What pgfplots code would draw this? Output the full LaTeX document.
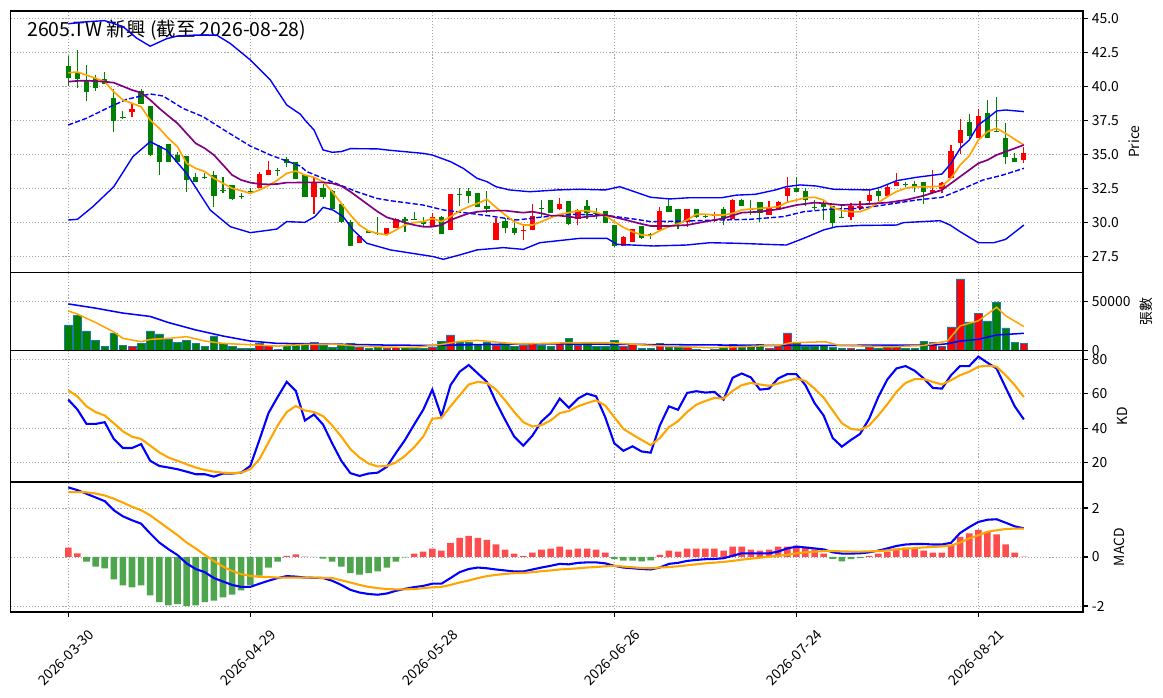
\documentclass[border=0pt]{standalone}
\usepackage{fontspec}
\setmainfont{Noto Sans CJK TC}
\usepackage{pgfplots}
\usepackage{pgfplotstable}
\pgfplotsset{compat=1.18}
\definecolor{cup}{RGB}{255,0,0}
\definecolor{cdn}{RGB}{0,128,0}
\definecolor{vedge}{RGB}{31,119,180}
\definecolor{hup}{RGB}{255,77,77}
\definecolor{hdn}{RGB}{77,166,77}
\definecolor{mblue}{RGB}{0,0,255}
\definecolor{morange}{RGB}{255,165,0}
\definecolor{mpurple}{RGB}{128,0,128}

% up candles: i open high low close volume
\pgfplotstableread{
i o h l c v
7 38.14 38.75 37.72 38.33 4450
21 32.5 33.68 32.5 33.55 6850
22 33.5 34.51 33.46 33.85 5480
27 31.89 33.31 30.59 32.92 8220
32 28.5 29.07 28.5 29.0 3425
35 29.12 29.61 29.07 29.61 2400
36 29.61 30.3 29.56 30.25 3425
40 29.73 30.71 29.73 30.37 3770
42 29.46 32.08 29.46 32.08 15755
47 28.7 30.34 28.7 29.93 5480
50 29.34 29.85 28.7 29.41 4800
51 29.46 31.32 29.46 30.49 7300
54 30.96 31.81 30.91 31.32 7190
56 30.22 30.96 29.78 30.91 5140
61 28.28 28.97 28.28 28.92 4450
62 28.58 29.51 28.58 29.51 6510
65 29.44 31.1 29.44 30.83 7535
68 30.05 30.96 29.63 30.96 3770
71 30.47 30.78 30.0 30.61 1370
73 30.22 31.74 30.22 31.64 6510
77 30.54 31.59 30.54 31.03 2400
78 30.91 31.59 30.91 31.47 4450
79 31.94 33.31 31.45 32.5 17810
86 30.37 31.4 30.17 31.2 2400
87 31.05 31.6 30.9 31.2 1370
88 31.59 32.38 31.4 32.0 3080
90 31.96 32.75 31.96 32.57 3080
91 32.67 33.6 32.67 32.99 3770
95 32.18 33.85 32.06 32.38 8560
96 32.45 32.99 32.13 32.87 4450
97 33.28 35.69 33.28 35.25 23975
98 35.86 37.6 35.02 36.79 72610
100 36.23 38.33 36.23 37.82 37330
105 34.58 35.56 34.39 35.07 7535
}\up

% down candles
\pgfplotstableread{
i o h l c v
0 41.5 42.25 40.0 40.59 26030
1 41.08 42.65 39.85 40.54 35280
2 40.49 41.54 38.95 39.61 19865
3 40.59 40.81 39.68 39.9 10620
4 40.51 41.05 40.2 40.2 4450
5 39.14 39.83 36.62 37.43 17810
6 37.75 38.19 37.57 37.68 5480
8 39.63 39.83 38.7 38.73 6850
9 38.53 38.58 34.9 34.98 19865
10 35.59 35.69 33.48 34.46 16780
11 35.74 35.74 34.41 34.44 11650
12 34.98 35.15 34.39 34.41 8560
13 34.9 34.9 32.25 33.14 10620
14 33.33 33.65 32.99 32.99 6850
15 33.33 33.6 33.19 33.24 4450
16 33.5 33.75 31.1 31.96 14730
17 32.4 33.3 32.18 32.3 6850
18 32.75 32.75 31.64 31.72 4450
19 31.93 32.18 31.69 31.86 2400
20 32.33 32.5 32.08 32.25 2400
23 33.85 34.02 33.43 33.75 1370
24 34.68 34.83 34.05 34.34 5480
25 34.46 34.46 33.16 33.2 7535
26 33.48 33.48 31.89 31.89 7535
28 32.5 32.79 31.72 31.89 5480
29 32.3 32.38 30.96 31.0 3425
30 31.35 31.4 29.93 30.0 5480
31 30.05 30.17 28.26 28.28 7535
33 29.34 29.44 29.19 29.24 2400
34 29.2 30.42 29.1 29.12 4110
37 30.22 30.42 29.26 30.12 3425
38 30.25 30.74 30.17 30.17 2400
39 30.02 30.37 29.73 29.85 2400
41 30.37 30.47 29.17 29.17 9590
43 32.08 32.5 31.2 32.0 7880
44 32.3 32.5 31.4 31.94 8560
45 32.18 32.18 31.1 31.1 5820
46 31.2 32.3 30.71 30.98 8560
48 30.1 30.3 29.19 29.61 5820
49 29.61 30.22 29.07 29.24 4450
52 31.08 31.64 30.42 31.0 5140
53 31.64 31.64 30.71 30.71 4450
55 31.57 31.57 29.78 29.85 12670
57 31.2 31.64 30.27 30.66 7535
58 30.71 31.03 30.22 30.61 4450
59 30.86 30.86 29.93 29.93 4450
60 29.8 29.8 28.21 28.28 10620
63 29.76 29.76 28.8 28.85 2400
64 29.17 29.24 28.78 29.07 2400
66 31.2 31.69 30.76 30.76 3425
67 30.96 30.96 29.51 29.85 3425
69 30.96 30.96 30.34 30.42 1370
70 30.47 30.61 30.34 30.39 340
72 30.96 31.1 29.78 30.25 3770
74 31.64 31.74 31.2 31.2 3770
75 30.96 31.64 30.54 30.9 4450
76 31.47 31.47 30.05 30.66 5820
80 32.5 33.31 32.25 32.25 7880
81 32.3 32.5 31.2 31.64 4450
82 31.15 31.64 30.91 31.08 4450
83 31.45 31.64 30.17 31.15 5140
84 31.2 31.2 29.63 29.93 3770
85 30.42 31.2 30.37 30.37 2400
89 32.28 32.43 31.59 31.94 2400
92 32.82 32.99 32.62 32.72 2400
93 32.79 33.06 32.26 32.62 2400
94 32.94 32.94 31.32 32.26 8900
99 37.4 37.94 36.05 36.35 29110
101 38.01 39.0 36.23 36.23 30140
102 36.72 39.2 36.62 36.62 48635
103 36.23 37.28 34.26 34.83 22950
104 34.7 35.12 34.41 34.41 8560
}\dn

\pgfplotsset{
  panel/.style={
    scale only axis, width=772.2pt, anchor=north west,
    xmin=-6.35, xmax=111.5,
    xtick={0,20,40,60,80,100},
    grid=major,
    grid style={line width=0.6pt, color=black!35, dash pattern=on 0.8pt off 1.4pt},
    axis line style={line width=0.8pt},
    tick align=outside, major tick length=3.5pt,
    tick style={line width=0.8pt, black},
    ytick pos=right, yticklabel pos=right,
    xtick pos=bottom,
    yticklabel shift=-0.6pt, xticklabel shift=3.6pt,
    ylabel near ticks,
    tick label style={font=\fontsize{10}{12}\selectfont},
    label style={font=\fontsize{10}{12}\selectfont},
    /pgf/number format/assume math mode=true,
  },
  upper/.style={xticklabels={}, xtick style={draw=none}},
  candle/.style={draw=none, mark=none, forget plot, error bars/.cd, y dir=plus, y explicit, error mark=none},
}

\begin{document}
\begin{tikzpicture}
\path[use as bounding box] (0,0) rectangle (837.36pt,-502.56pt);

% ---------------- price ----------------
\begin{axis}[panel, upper, at={(7.56pt,-7.92pt)}, height=188.28pt,
  ymin=26.31, ymax=45.54, ytick={27.5,30,32.5,35,37.5,40,42.5,45},
  yticklabel style={/pgf/number format/.cd,fixed,fixed zerofill,precision=1},
  ylabel={Price}]
\node[anchor=west, font=\fontsize{14}{16}\selectfont, inner sep=0pt] at (rel axis cs:0.0154,0.926) {2605.TW 新興 (截至 2026-08-28)};
% wicks
\addplot[candle, error bar style={line width=0.8pt, draw=cup}]
  table[x=i, y=l, y error plus expr=\thisrow{h}-\thisrow{l}]{\up};
\addplot[candle, error bar style={line width=0.8pt, draw=cdn}]
  table[x=i, y=l, y error plus expr=\thisrow{h}-\thisrow{l}]{\dn};
% bodies
\addplot[candle, error bar style={line width=3.8pt, draw=cup, line cap=butt}]
  table[x=i, y=o, y error plus expr=\thisrow{c}-\thisrow{o}]{\up};
\addplot[candle, error bar style={line width=3.8pt, draw=cdn, line cap=butt}]
  table[x=i, y=c, y error plus expr=\thisrow{o}-\thisrow{c}]{\dn};
% bollinger
\addplot[mblue, line width=1pt, dash pattern=on 3.7pt off 1.6pt] coordinates {
(0,37.16)(2,37.65)(4.6,38.5)(6.4,39.04)(9,39.44)(10.4,39.29)(12.6,38.38)(14.8,37.77)(17.4,36.67)(20,35.61)(22.2,34.95)(25.5,34.14)(26.2,33.73)(28,33.24)(31.7,32.25)(33.9,31.76)(35.4,31.59)(39,31.27)(41.2,30.91)(44.1,30.66)(46.3,30.47)(49.3,30.17)(51.8,30.37)(55.1,30.59)(58.8,30.54)(62.4,30.22)(64,30.05)(68,30.1)(71.6,30.17)(74.9,30.22)(78.6,30.42)(80.8,30.78)(83.7,30.96)(87,31.03)(89.6,31.27)(93.2,31.64)(96,31.84)(98,32.38)(100.5,33.11)(102.7,33.48)(105,33.97)};
\addplot[mblue, line width=1pt] coordinates {
(0,44.6)(2,44.75)(4,44.83)(6,44.4)(7.5,43.55)(9,42.95)(10.8,43.5)(12,43.7)(14,43.77)(16.3,43.77)(17.8,43.15)(20,41.94)(22.2,40.47)(24,38.63)(25.5,37.95)(26,37.52)(27,36.79)(28,35.32)(29,35.15)(30,35.2)(31,35.42)(34,35.4)(35.3,35.3)(39,35.07)(40,34.95)(42,34.46)(43.4,33.97)(44.9,33.24)(46,32.99)(47,32.62)(48.5,32.38)(50.7,32.25)(53.7,32.38)(56.2,32.43)(59,32.38)(60.6,32.62)(62,32.3)(64,31.84)(66.1,31.72)(68.3,31.81)(71.8,31.81)(73.4,32.0)(75.5,32.06)(77.7,32.38)(78.9,32.62)(80.4,32.75)(82.2,32.67)(84.1,32.43)(88.1,32.38)(89.2,32.57)(91,33.06)(93.2,33.31)(96,33.55)(97,34.34)(98,35.44)(99,36.05)(100,37.16)(101,37.65)(102,38.19)(103,38.26)(105,38.14)};
\addplot[mblue, line width=1pt] coordinates {
(0,30.17)(1,30.22)(2.7,31.15)(5,32.62)(7.1,34.83)(9,35.93)(10.8,35.32)(13,33.6)(15.6,30.9)(17.8,29.68)(20,29.24)(22.9,29.5)(24,30.05)(26,30.0)(27.1,30.42)(28,31.1)(29.1,30.9)(30.2,30.42)(31.3,29.44)(32.8,28.46)(35.4,27.97)(40.1,27.48)(41.2,27.28)(43,27.6)(44.9,27.97)(47.8,28.14)(50,28.01)(51.8,28.5)(56.2,28.82)(59.2,28.82)(60.3,28.38)(64.3,28.26)(67.9,28.33)(70.5,28.5)(73.4,28.46)(78.9,28.33)(80.8,28.82)(83,29.44)(84.4,29.68)(87,29.77)(91,29.8)(91.8,29.98)(95.8,30.12)(96.9,29.8)(98,29.31)(100,28.5)(101.7,28.5)(103,28.75)(105,29.8)};
% MA5
\addplot[morange, line width=1.2pt] coordinates {
(0,41.0)(1,41.05)(2,40.83)(3,40.6)(4,40.34)(5,39.6)(6,39.0)(7,38.75)(8,38.5)(9,37.52)(10,36.91)(11,36.18)(12,35.56)(13,34.34)(14,33.97)(15,33.73)(16,33.24)(17,32.87)(18,32.5)(19,32.33)(20,32.13)(21,32.38)(22,32.7)(23,33.11)(24,33.6)(25,33.77)(26,33.48)(27,33.31)(28,32.99)(29,32.25)(30,31.4)(31,30.54)(32,29.8)(33,29.36)(34,29.19)(35,29.07)(36,29.44)(37,29.8)(38,29.98)(39,30.05)(40,30.29)(41,30.05)(42,30.42)(43,30.83)(44,31.15)(45,31.4)(46,31.69)(47,31.1)(48,30.54)(49,30.05)(50,29.8)(51,29.8)(52,30.05)(53,30.34)(54,30.59)(55,30.71)(56,30.85)(57,30.86)(58,30.74)(59,30.49)(60,30.05)(61,29.63)(62,29.31)(63,29.07)(64,29.02)(65,29.39)(66,29.68)(67,29.88)(68,30.17)(69,30.59)(70,30.59)(71,30.54)(72,30.54)(73,30.66)(74,30.91)(75,30.98)(76,31.03)(77,31.08)(78,31.15)(79,31.47)(80,31.64)(81,31.81)(82,31.84)(83,31.64)(84,31.08)(85,30.86)(86,30.78)(87,30.78)(88,31.03)(89,31.45)(90,31.89)(91,32.26)(92,32.5)(93,32.62)(94,32.62)(95,32.62)(96,32.67)(97,33.24)(98,34.22)(99,34.88)(100,36.05)(101,36.67)(102,36.91)(103,36.54)(104,36.1)(105,35.69)};
% MA10
\addplot[mpurple, line width=1.2pt] coordinates {
(0,40.34)(1,40.4)(2,40.42)(3,40.38)(4,40.34)(5,40.27)(6,40.0)(7,39.73)(8,39.53)(9,39.0)(10,38.38)(11,37.82)(12,37.28)(13,36.54)(14,35.81)(15,35.44)(16,34.95)(17,34.22)(18,33.48)(19,33.11)(20,32.92)(21,32.82)(22,32.79)(23,32.82)(24,32.92)(25,32.92)(26,32.94)(27,32.94)(28,32.94)(29,32.87)(30,32.67)(31,32.25)(32,31.76)(33,31.27)(34,30.78)(35,30.37)(36,30.17)(37,29.98)(38,29.8)(39,29.68)(40,29.68)(41,29.8)(42,30.17)(43,30.42)(44,30.66)(45,30.78)(46,30.83)(47,30.86)(48,30.86)(49,30.78)(50,30.71)(51,30.78)(52,30.66)(53,30.49)(54,30.49)(55,30.42)(56,30.32)(57,30.42)(59,30.54)(61,30.22)(63,29.88)(64,29.73)(66,29.73)(68,29.8)(70,30.05)(72,30.29)(74,30.71)(76,30.78)(78,30.96)(80,31.27)(82,31.45)(83,31.4)(85,31.27)(86,31.3)(88,31.35)(90,31.45)(92,31.64)(94,31.96)(96,32.38)(97,32.87)(98,33.36)(99,33.85)(100,34.34)(101,34.58)(102,34.95)(103,35.2)(104,35.44)(105,35.69)};
\end{axis}

% ---------------- volume ----------------
\begin{axis}[panel, upper, at={(7.56pt,-196.2pt)}, height=56.16pt,
  ymin=0, ymax=79200, ytick={0,50000}, scaled y ticks=false,
  yticklabel style={/pgf/number format/.cd,fixed,1000 sep={}},
  ylabel={張數}]
\addplot[ybar, bar width=0.84, bar shift=0pt, fill=cup, draw=vedge, line width=0.4pt] table[x=i,y=v]{\up};
\addplot[ybar, bar width=0.84, bar shift=0pt, fill=cdn, draw=vedge, line width=0.4pt] table[x=i,y=v]{\dn};
\addplot[mblue, line width=1.1pt] coordinates {
(0,47300)(3,43000)(6,38000)(9,34600)(11,28400)(14,20900)(17,14700)(20,9600)(23,7200)(27,6850)(31,6200)(35,5500)(40,5150)(46,6150)(51,6850)(68,5800)(79,5150)(95,5500)(96.6,6850)(98,9600)(100,11300)(102,15750)(105,17450)};
\addplot[morange, line width=1.1pt] coordinates {
(0,40070)(1,36990)(3,28430)(5,18840)(6,12330)(8,8905)(9,11300)(11,12330)(13,14040)(15,9590)(17,7190)(20,5820)(23,4450)(26,6165)(29,6510)(32,4450)(35,3425)(38,3080)(41,6165)(43,9250)(45,10275)(47,8560)(49,6850)(51,6850)(55,7880)(59.6,7880)(64,5140)(70.6,2740)(75.5,4450)(78,5140)(79.4,7880)(83.2,8900)(84.7,5140)(90.5,3770)(94,5140)(96.6,9590)(98,25000)(100,30140)(102,43840)(103,35280)(105,24320)};
\end{axis}

% ---------------- KD ----------------
\begin{axis}[panel, upper, at={(7.56pt,-252.36pt)}, height=94.68pt,
  ymin=8.78, ymax=85.13, ytick={20,40,60,80}, ylabel={KD}]
\addplot[mblue, line width=1.5pt] coordinates {
(0,56.6)(1,50.9)(2,42.5)(3,42.5)(4,43.5)(5,33.8)(6,28.5)(7,28.5)(8,30.8)(9,21.1)(10,18.1)(11,17.2)(12,16.2)(13,14.8)(14,13.3)(15,13.3)(16,11.9)(17,13.7)(18,13.7)(19,14.2)(20,18.1)(21,33.2)(22,48.8)(23,58.1)(24,66.9)(25,61.7)(26,44.5)(27,48.0)(28,42.1)(29,31.2)(30,21.1)(31,13.9)(32,12.3)(33,13.7)(34,14.2)(35,17.6)(36,25.6)(37,33.2)(38,42.1)(39,50.7)(40,62.4)(41,47.0)(42,65.0)(43,72.8)(44,76.7)(45,71.8)(46,66.9)(47,55.2)(48,44.9)(49,35.1)(50,29.9)(51,35.7)(52,44.0)(53,48.8)(54,57.2)(55,51.9)(56,57.2)(57,60.1)(58,58.5)(59,46.4)(60,31.2)(61,26.9)(62,29.5)(63,26.5)(64,25.8)(65,41.6)(66,52.7)(67,50.7)(68,60.5)(69,61.5)(70,60.7)(71,61.1)(72,56.6)(73,69.3)(74,71.8)(75,69.5)(76,62.4)(77,63.0)(78,68.9)(79,71.4)(80,71.4)(81,65.0)(82,54.6)(83,47.4)(84,34.3)(85,29.3)(86,33.2)(87,36.7)(88,45.5)(89,58.1)(90,68.3)(91,74.7)(92,76.1)(93,73.4)(94,68.9)(95,63.4)(96,63.0)(97,70.8)(98,76.1)(99,76.1)(100,81.6)(101,78.0)(102,74.7)(103,63.6)(104,52.7)(105,45.1)};
\addplot[morange, line width=1.5pt] coordinates {
(0,62.0)(1,58.5)(2,52.7)(3,49.4)(4,47.4)(5,42.9)(6,38.2)(7,35.1)(8,33.8)(9,29.9)(10,26.0)(11,23.0)(12,21.1)(13,19.1)(14,17.2)(15,15.8)(16,14.8)(17,14.2)(18,14.0)(19,14.2)(20,16.2)(21,22.0)(22,31.8)(23,41.6)(24,49.4)(25,52.9)(26,50.3)(27,49.4)(28,47.0)(29,41.6)(30,35.1)(31,27.9)(32,23.0)(33,19.5)(34,17.8)(35,18.1)(36,20.1)(37,24.0)(38,28.9)(39,35.1)(40,45.5)(41,46.0)(42,52.7)(43,59.1)(44,65.4)(45,66.9)(46,66.3)(47,62.4)(48,56.2)(49,49.4)(50,43.5)(51,41.0)(52,41.8)(53,44.5)(54,48.8)(55,50.0)(56,52.7)(57,54.6)(58,56.2)(59,53.2)(60,46.4)(61,39.6)(62,36.3)(63,33.2)(64,30.2)(65,34.3)(66,40.6)(67,44.1)(68,49.4)(69,53.7)(70,55.8)(71,57.6)(72,57.2)(73,61.7)(74,65.0)(75,66.3)(76,65.4)(77,64.6)(78,66.0)(79,67.5)(80,68.9)(81,67.5)(82,63.0)(83,57.8)(84,50.3)(85,42.9)(86,39.6)(87,39.0)(88,41.6)(89,47.4)(90,53.9)(91,61.1)(92,66.3)(93,68.5)(94,68.5)(95,66.9)(96,65.4)(97,67.9)(98,70.8)(99,72.8)(100,75.7)(101,76.3)(102,75.7)(103,70.8)(104,65.0)(105,58.1)};
\end{axis}

% ---------------- MACD ----------------
\begin{axis}[panel, at={(7.56pt,-347.04pt)}, height=93.6pt,
  ymin=-2.245, ymax=3.06, ytick={-2,0,2}, ylabel={MACD},
  xticklabels={2026-03-30,2026-04-29,2026-05-28,2026-06-26,2026-07-24,2026-08-21},
  xticklabel style={xshift=14pt, rotate=45, anchor=north east}]
\addplot[ybar, bar width=0.72, bar shift=0pt, fill=hup, draw=none] coordinates {
(0,0.38)(1,0.15)(24,0.05)(25,0.11)(26,0.01)(38,0.14)(39,0.22)(40,0.34)(41,0.26)(42,0.58)(43,0.78)(44,0.86)(45,0.78)(46,0.70)(47,0.51)(48,0.30)(49,0.14)(50,0.05)(51,0.18)(52,0.30)(53,0.34)(54,0.42)(55,0.30)(56,0.34)(57,0.34)(58,0.30)(59,0.18)(65,0.09)(66,0.26)(67,0.22)(68,0.34)(69,0.34)(70,0.34)(71,0.34)(72,0.26)(73,0.42)(74,0.42)(75,0.30)(76,0.26)(77,0.30)(78,0.42)(79,0.42)(80,0.46)(81,0.38)(82,0.31)(83,0.14)(88,0.05)(89,0.14)(90,0.22)(91,0.34)(92,0.38)(93,0.38)(94,0.26)(95,0.18)(96,0.18)(97,0.49)(98,0.82)(99,0.96)(100,1.11)(101,1.03)(102,0.92)(103,0.51)(104,0.18)(105,0.01)};
\addplot[ybar, bar width=0.72, bar shift=0pt, fill=hdn, draw=none] coordinates {
(2,-0.19)(3,-0.39)(4,-0.46)(5,-0.91)(6,-1.16)(7,-1.24)(8,-1.16)(9,-1.57)(10,-1.84)(11,-1.97)(12,-1.92)(13,-2.0)(14,-1.97)(15,-1.84)(16,-1.78)(17,-1.65)(18,-1.54)(19,-1.36)(20,-1.16)(21,-0.76)(22,-0.43)(23,-0.19)(27,-0.01)(28,-0.07)(29,-0.19)(30,-0.39)(31,-0.66)(32,-0.72)(33,-0.66)(34,-0.59)(35,-0.43)(36,-0.19)(37,-0.02)(60,-0.09)(61,-0.15)(62,-0.15)(63,-0.18)(64,-0.14)(84,-0.08)(85,-0.18)(86,-0.09)(87,-0.05)};
\addplot[mblue, line width=1.5pt] coordinates {
(0,2.84)(1,2.73)(2,2.58)(3,2.43)(4,2.28)(5,1.91)(6,1.66)(7,1.50)(8,1.36)(9,0.96)(10,0.59)(11,0.32)(12,0.08)(13,-0.26)(14,-0.49)(15,-0.62)(16,-0.86)(17,-1.0)(18,-1.14)(19,-1.22)(20,-1.22)(21,-1.09)(22,-0.97)(23,-0.86)(24,-0.78)(25,-0.80)(26,-0.84)(27,-0.85)(28,-0.86)(29,-0.97)(30,-1.14)(31,-1.34)(32,-1.45)(33,-1.51)(34,-1.54)(35,-1.49)(36,-1.38)(37,-1.30)(38,-1.23)(39,-1.18)(40,-1.09)(41,-1.09)(42,-0.86)(43,-0.62)(44,-0.49)(45,-0.43)(46,-0.46)(47,-0.51)(48,-0.55)(49,-0.59)(50,-0.59)(51,-0.51)(52,-0.43)(53,-0.36)(54,-0.28)(55,-0.30)(56,-0.24)(57,-0.22)(58,-0.22)(59,-0.26)(60,-0.36)(61,-0.43)(62,-0.46)(63,-0.49)(64,-0.51)(65,-0.43)(66,-0.28)(67,-0.24)(68,-0.16)(69,-0.12)(70,-0.09)(71,-0.08)(72,-0.05)(73,0.05)(74,0.15)(75,0.15)(76,0.15)(77,0.15)(78,0.22)(79,0.35)(80,0.42)(81,0.39)(82,0.35)(83,0.31)(84,0.19)(85,0.14)(86,0.14)(87,0.15)(88,0.19)(89,0.26)(90,0.35)(91,0.45)(92,0.51)(93,0.53)(94,0.53)(95,0.51)(96,0.51)(97,0.58)(98,0.98)(99,1.22)(100,1.43)(101,1.52)(102,1.54)(103,1.40)(104,1.25)(105,1.17)};
\addplot[morange, line width=1.5pt] coordinates {
(0,2.65)(1,2.65)(2,2.64)(3,2.59)(4,2.51)(5,2.38)(6,2.22)(7,2.05)(8,1.91)(9,1.70)(10,1.43)(11,1.16)(12,0.89)(13,0.59)(14,0.35)(15,0.08)(16,-0.16)(17,-0.39)(18,-0.57)(19,-0.70)(20,-0.77)(21,-0.81)(22,-0.82)(23,-0.84)(24,-0.84)(25,-0.84)(26,-0.84)(27,-0.84)(28,-0.85)(29,-0.86)(30,-0.95)(31,-1.04)(32,-1.14)(33,-1.22)(34,-1.27)(35,-1.31)(36,-1.32)(37,-1.32)(38,-1.31)(39,-1.27)(40,-1.24)(41,-1.22)(42,-1.14)(43,-1.04)(44,-0.96)(45,-0.86)(46,-0.78)(47,-0.73)(48,-0.69)(49,-0.66)(50,-0.65)(51,-0.62)(52,-0.58)(53,-0.55)(54,-0.51)(55,-0.49)(56,-0.46)(57,-0.43)(58,-0.41)(59,-0.38)(60,-0.36)(61,-0.39)(62,-0.42)(63,-0.45)(64,-0.46)(65,-0.43)(66,-0.41)(67,-0.38)(68,-0.34)(69,-0.30)(70,-0.26)(71,-0.23)(72,-0.20)(73,-0.16)(74,-0.11)(75,-0.07)(76,-0.03)(77,0.01)(78,0.05)(79,0.09)(80,0.15)(81,0.19)(82,0.22)(83,0.24)(84,0.24)(85,0.23)(86,0.22)(87,0.22)(88,0.23)(89,0.24)(90,0.27)(91,0.31)(92,0.34)(93,0.36)(94,0.39)(95,0.41)(96,0.43)(97,0.47)(98,0.59)(99,0.76)(100,0.89)(101,1.03)(102,1.09)(103,1.14)(104,1.16)(105,1.16)};
\end{axis}
\end{tikzpicture}
\end{document}
